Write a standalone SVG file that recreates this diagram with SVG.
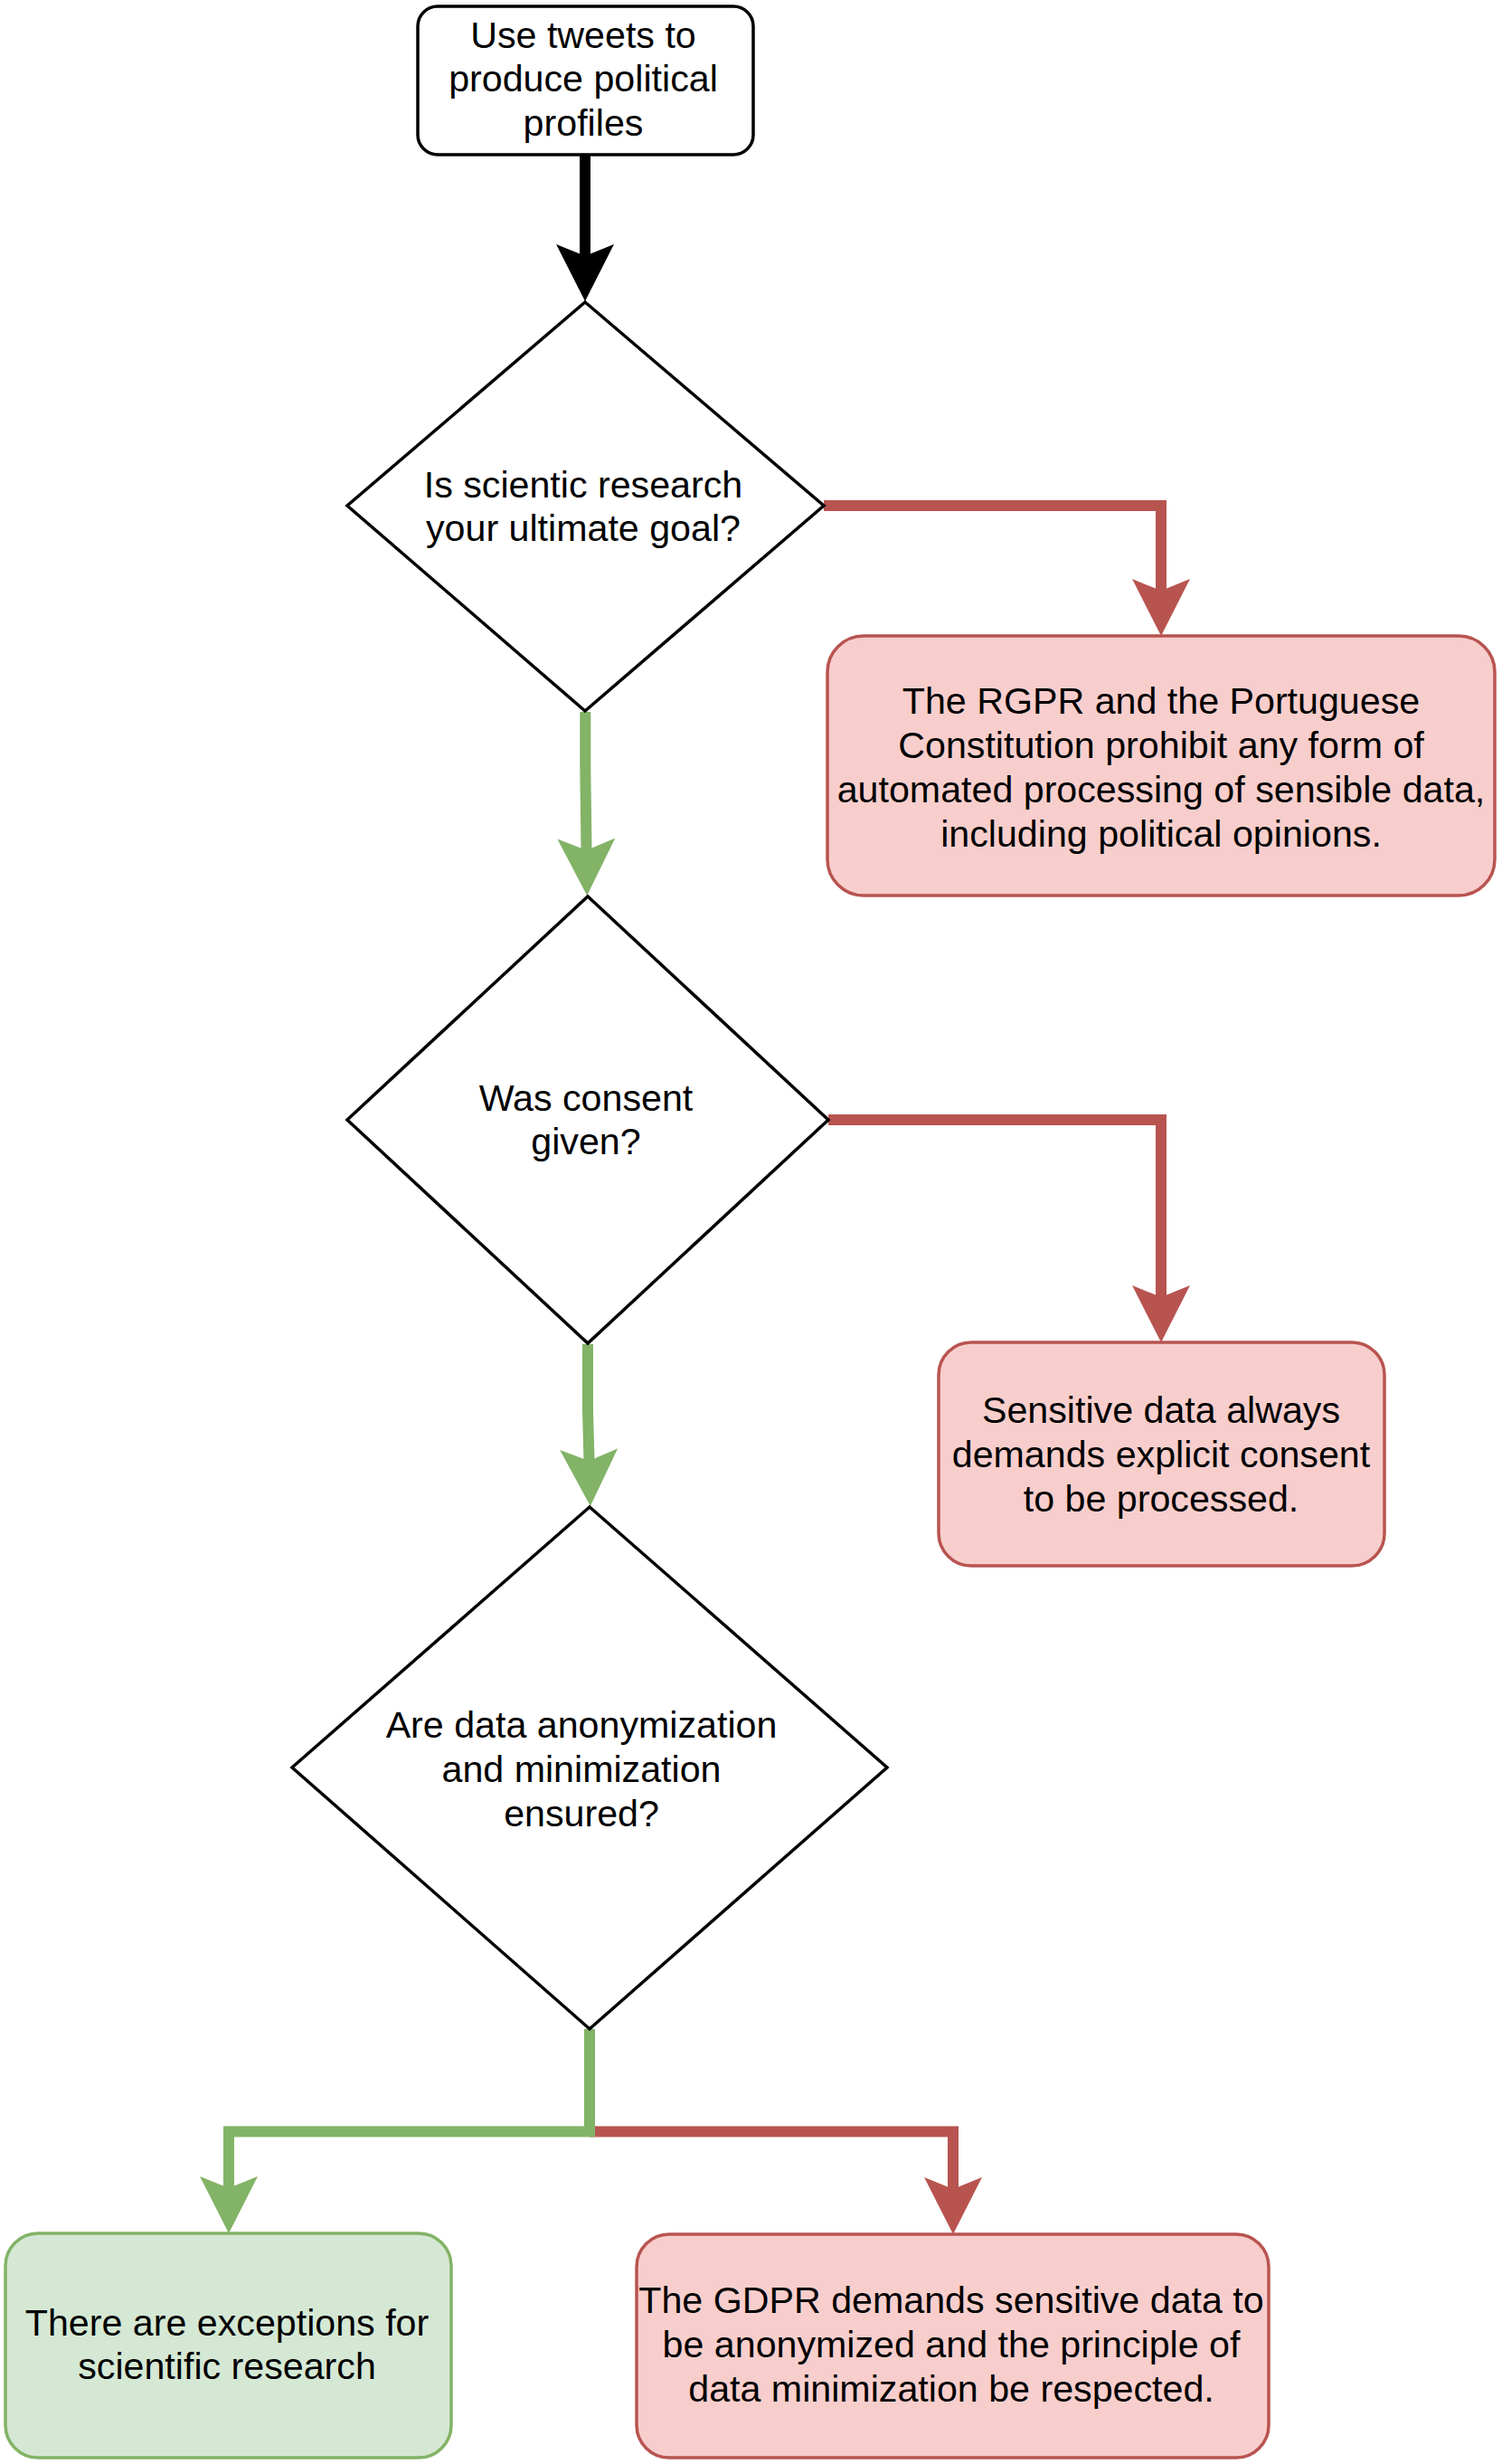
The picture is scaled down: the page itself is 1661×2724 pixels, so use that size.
<svg xmlns="http://www.w3.org/2000/svg" width="1661" height="2724" viewBox="0 0 1661 2724">
<style>
.t{font-family:"Liberation Sans",Arial,Helvetica,sans-serif;font-size:41.2px;fill:#000;text-anchor:middle}
.plain{fill:#fff;stroke:#000;stroke-width:3.5}
.red{fill:#f8cecc;stroke:#b85450;stroke-width:3.5}
.green{fill:#d5e8d4;stroke:#82b366;stroke-width:3.5}
.c{fill:none;stroke-width:12;stroke-linejoin:miter;stroke-linecap:butt}
.ck{stroke:#000;marker-end:url(#ak)}
.cr{stroke:#b85450;marker-end:url(#ar)}
.cg{stroke:#82b366;marker-end:url(#ag)}
</style>
<defs>
<marker id="ak" markerUnits="userSpaceOnUse" viewBox="0 0 63 64" markerWidth="63" markerHeight="64" refX="13" refY="32" orient="auto"><path d="M0,0 L63,32 L0,64 L13,32 Z" fill="#000"/></marker>
<marker id="ar" markerUnits="userSpaceOnUse" viewBox="0 0 63 64" markerWidth="63" markerHeight="64" refX="13" refY="32" orient="auto"><path d="M0,0 L63,32 L0,64 L13,32 Z" fill="#b85450"/></marker>
<marker id="ag" markerUnits="userSpaceOnUse" viewBox="0 0 63 64" markerWidth="63" markerHeight="64" refX="13" refY="32" orient="auto"><path d="M0,0 L63,32 L0,64 L13,32 Z" fill="#82b366"/></marker>
</defs>
<rect width="1661" height="2724" fill="#fff"/>
<g id="connectors">
<path class="c ck" d="M647,171 L647,283"/>
<path class="c cr" d="M911,559 L1284,559 L1284,653"/>
<path class="c cg" d="M647.3,787 L647.3,850 L648.5,940"/>
<path class="c cr" d="M916,1238 L1284,1238 L1284,1434"/>
<path class="c cg" d="M650,1486 L650,1560 L651.5,1615"/>
<path class="c cr" d="M652,2356.5 L1054,2356.5 L1054,2420"/>
<path class="c cg" d="M652,2243 L652,2356.5 L253,2356.5 L253,2419"/>
</g>
<g id="start">
<rect class="plain" x="462" y="7" width="371" height="164" rx="22" ry="22"/>
<text class="t"><tspan x="645" y="53">Use tweets to</tspan><tspan x="645" y="101">produce political</tspan><tspan x="645" y="150">profiles</tspan></text>
</g>
<g id="q1">
<polygon class="plain" points="647,334 911,559 647,786 384,559"/>
<text class="t"><tspan x="645" y="550">Is scientic research</tspan><tspan x="645" y="598">your ultimate goal?</tspan></text>
</g>
<g id="r1">
<rect class="red" x="915" y="703" width="738" height="287" rx="40" ry="40"/>
<text class="t"><tspan x="1284" y="789">The RGPR and the Portuguese</tspan><tspan x="1284" y="838">Constitution prohibit any form of</tspan><tspan x="1284" y="887">automated processing of sensible data,</tspan><tspan x="1284" y="936">including political opinions.</tspan></text>
</g>
<g id="q2">
<polygon class="plain" points="650,991 916,1238 650,1485 384,1238"/>
<text class="t"><tspan x="648" y="1228">Was consent</tspan><tspan x="648" y="1276">given?</tspan></text>
</g>
<g id="r2">
<rect class="red" x="1038" y="1484" width="493" height="247" rx="36" ry="36"/>
<text class="t"><tspan x="1284" y="1573">Sensitive data always</tspan><tspan x="1284" y="1622">demands explicit consent</tspan><tspan x="1284" y="1671">to be processed.</tspan></text>
</g>
<g id="q3">
<polygon class="plain" points="652,1666 981,1954 652,2243 323,1954"/>
<text class="t"><tspan x="643" y="1921">Are data anonymization</tspan><tspan x="643" y="1970">and minimization</tspan><tspan x="643" y="2019">ensured?</tspan></text>
</g>
<g id="g1">
<rect class="green" x="6" y="2469" width="493" height="248" rx="36" ry="36"/>
<text class="t"><tspan x="251" y="2582">There are exceptions for</tspan><tspan x="251" y="2630">scientific research</tspan></text>
</g>
<g id="r3">
<rect class="red" x="704" y="2470" width="699" height="247" rx="36" ry="36"/>
<text class="t"><tspan x="1052" y="2557">The GDPR demands sensitive data to</tspan><tspan x="1052" y="2606">be anonymized and the principle of</tspan><tspan x="1052" y="2655">data minimization be respected.</tspan></text>
</g>
</svg>
